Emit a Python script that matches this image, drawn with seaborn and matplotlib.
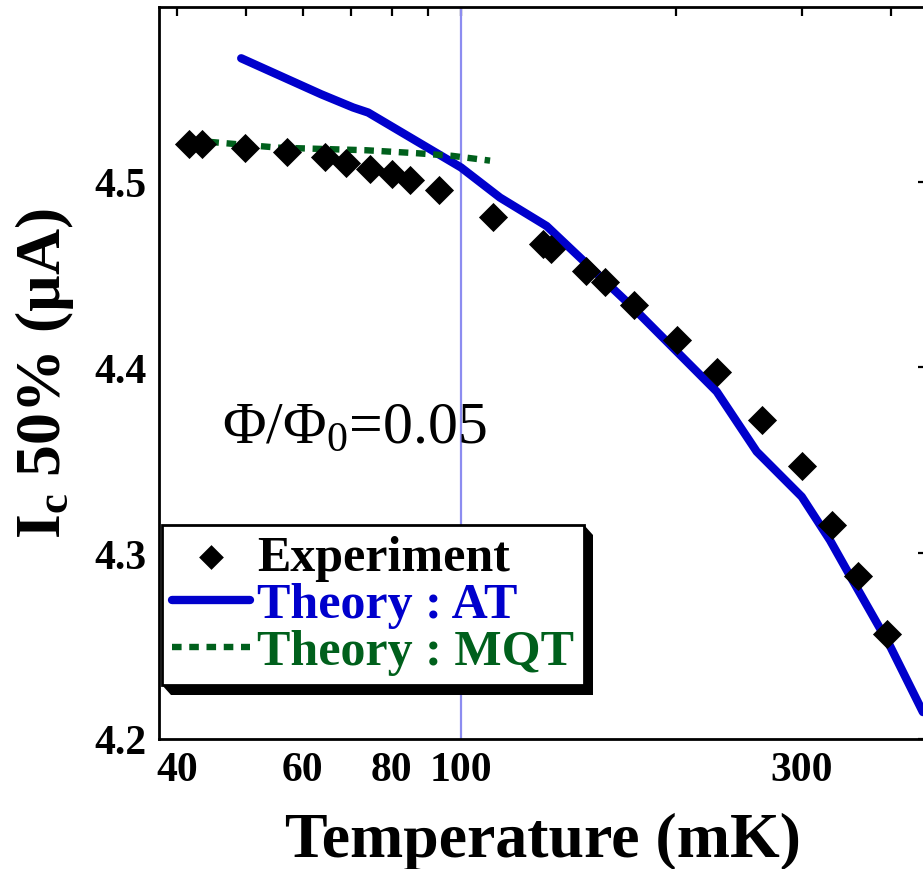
import numpy as np
import pandas as pd
import matplotlib
matplotlib.use("Agg")
import matplotlib.pyplot as plt
import seaborn as sns
from matplotlib.patches import Polygon
from matplotlib.transforms import IdentityTransform
from matplotlib.ticker import FixedLocator, FixedFormatter, NullLocator

# ---- data ----
exp_T = [41.6, 43.3, 49.8, 57.1, 64.4, 69.0, 74.5, 79.9, 84.8, 93.2, 110.8, 130.4,
         133.7, 149.6, 159.0, 174.8, 200.7, 228.3, 264.2, 300.6, 330.5, 360.1, 395.4]
exp_I = [4.520, 4.520, 4.518, 4.516, 4.513, 4.510, 4.507, 4.504, 4.501, 4.4955, 4.481, 4.4666,
         4.4638, 4.452, 4.446, 4.4335, 4.4147, 4.3975, 4.3716, 4.347, 4.3154, 4.2879, 4.2564]

at_T = [49.2, 63.7, 70.6, 74.1, 100, 113.4, 131.8, 174.3, 228.1, 259.5, 300.1, 328.7, 350.6, 398.9, 443.6]
at_I = [4.5664, 4.5470, 4.5399, 4.5372, 4.5076, 4.4914, 4.4761, 4.432, 4.3870, 4.3547, 4.3304,
        4.3070, 4.2879, 4.2501, 4.2145]

mqt_T = [42.0, 55.4, 73.6, 86.7, 97.1, 109.8]
mqt_I = [4.5222, 4.5183, 4.5169, 4.5153, 4.5139, 4.5113]

x_ticks = [40, 50, 60, 70, 80, 90, 100, 200, 300, 400]
x_ticklabels = ["40", "", "60", "", "80", "", "100", "", "300", ""]
y_ticks = [4.2, 4.3, 4.4, 4.5]
y_ticklabels = ["4.2", "4.3", "4.4", "4.5"]

labels = ["Experiment", "Theory : AT", "Theory : MQT"]
label_colors = ["black", "#0000cc", "#00601c"]

sns.set_theme(style="white")
plt.rcParams["font.family"] = ["Liberation Serif", "DejaVu Serif"]
plt.rcParams["mathtext.fontset"] = "custom"
plt.rcParams["mathtext.rm"] = "Liberation Serif"
plt.rcParams["mathtext.bf"] = "Liberation Serif:bold"
plt.rcParams["mathtext.it"] = "Liberation Serif:italic"
for k in ["text.color", "axes.labelcolor", "xtick.color", "ytick.color", "axes.edgecolor"]:
    plt.rcParams[k] = "black"

W, H = 923, 870
fig = plt.figure(figsize=(W / 100, H / 100), dpi=100)
ax = fig.add_axes([159 / W, 1 - 740 / H, (927 - 159) / W, (740 - 8) / H])

df_exp = pd.DataFrame({"T": exp_T, "I": exp_I})
df_at = pd.DataFrame({"T": at_T, "I": at_I})
df_mqt = pd.DataFrame({"T": mqt_T, "I": mqt_I})

ax.axvline(100, color="#8c8cf0", lw=1.6, zorder=1)
sns.lineplot(data=df_at, x="T", y="I", ax=ax, color="#0000cc", lw=6, estimator=None,
             sort=False, label=labels[1], zorder=2)
sns.lineplot(data=df_mqt, x="T", y="I", ax=ax, color="#00601c", lw=4.6,
             linestyle=(0, (1.5, 1.2)), estimator=None, sort=False, label=labels[2], zorder=3)
sns.scatterplot(data=df_exp, x="T", y="I", ax=ax, marker="D", s=220, color="black",
                edgecolor="black", linewidth=0, label=labels[0], zorder=4)

ax.set_xscale("log")
ax.set_xlim(37.74, 449.5)
ax.set_ylim(4.2, 4.594)

ax.xaxis.set_major_locator(FixedLocator(x_ticks))
ax.xaxis.set_major_formatter(FixedFormatter(x_ticklabels))
ax.xaxis.set_minor_locator(NullLocator())
ax.yaxis.set_major_locator(FixedLocator(y_ticks))
ax.yaxis.set_major_formatter(FixedFormatter(y_ticklabels))
ax.yaxis.set_minor_locator(NullLocator())
ax.tick_params(which="both", direction="in", top=True, right=True, length=6.5, width=1.6,
               color="black", labelcolor="black", labelsize=30, pad=9)
for lab in ax.get_xticklabels() + ax.get_yticklabels():
    lab.set_fontweight("bold")
for s in ax.spines.values():
    s.set_linewidth(2)
    s.set_color("black")

ax.set_xlabel("Temperature (mK)", fontsize=46, fontweight="bold", color="black")
ax.set_ylabel(r"$\mathbf{I_c}$ 50% (µA)", fontsize=46, fontweight="bold", color="black")
ax.xaxis.set_label_coords(0.5, -0.1)
ax.yaxis.set_label_coords(-0.108, 0.5)

ax.text((222 - 159) / 768, (740 - 443) / 732, r"$\Phi/\Phi_0$=0.05", transform=ax.transAxes,
        fontsize=43, va="baseline", ha="left", color="black")

handles, labs = ax.get_legend_handles_labels()
hs = [handles[labs.index(l)] for l in labels]
leg = ax.legend(hs, labels, loc="lower left", bbox_to_anchor=((162 - 159) / 768, (740 - 686) / 732),
                borderaxespad=0, frameon=True, fancybox=False, edgecolor="black", framealpha=1,
                prop={"family": "Liberation Serif", "weight": "bold", "size": 36},
                labelcolor=label_colors, handlelength=1.55, handletextpad=0.15,
                labelspacing=0.02, borderpad=0.2, markerscale=0.85)
leg.get_frame().set_linewidth(2)
leg.set_zorder(6)

fig.canvas.draw()
bb = leg.get_window_extent()
dx, dy = 9, 10
pts = [(bb.x0, bb.y0), (bb.x1, bb.y1), (bb.x1 + dx, bb.y1 - dy), (bb.x1 + dx, bb.y0 - dy),
       (bb.x0 + dx, bb.y0 - dy)]
shadow = Polygon(pts, closed=True, facecolor="black", edgecolor="none",
                 transform=IdentityTransform(), zorder=5.5, clip_on=False)
ax.add_patch(shadow)

fig.savefig("out.png", dpi=100)
